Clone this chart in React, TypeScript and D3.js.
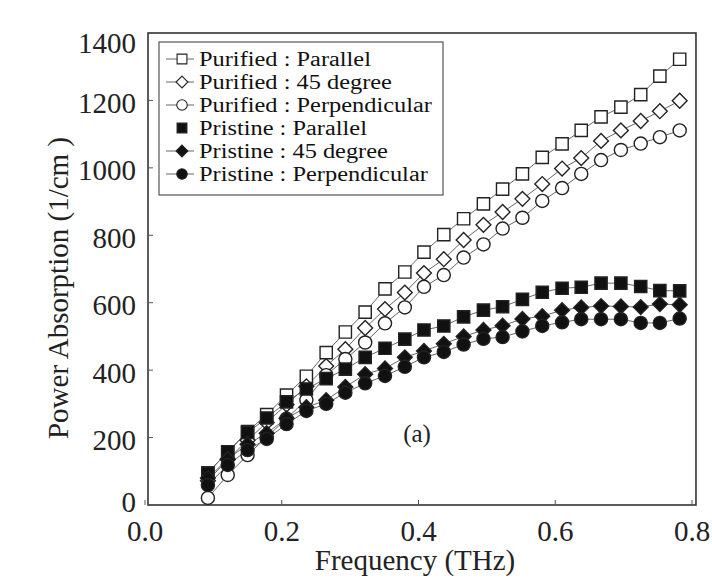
import React from "react";
import * as d3 from "d3";

const freq = [0.092, 0.121, 0.150, 0.178, 0.207, 0.236, 0.265, 0.293, 0.322, 0.351, 0.380, 0.408, 0.437, 0.466, 0.495, 0.523, 0.552, 0.581, 0.610, 0.638, 0.667, 0.696, 0.725, 0.753, 0.782];

const purifiedParallel = [95, 158, 218, 268, 326, 382, 452, 513, 572, 641, 691, 750, 802, 849, 893, 937, 982, 1031, 1071, 1111, 1151, 1180, 1217, 1272, 1322];
const purified45 = [72, 135, 192, 245, 298, 352, 412, 462, 525, 581, 630, 688, 729, 786, 831, 869, 908, 952, 998, 1029, 1080, 1111, 1139, 1168, 1199];
const purifiedPerp = [21, 89, 148, 202, 256, 312, 385, 433, 482, 539, 586, 647, 682, 734, 773, 820, 852, 902, 940, 982, 1023, 1053, 1072, 1091, 1111];
const pristineParallel = [95, 158, 215, 258, 306, 344, 375, 403, 438, 465, 492, 519, 531, 558, 578, 588, 610, 631, 643, 646, 658, 658, 648, 636, 635];
const pristine45 = [80, 136, 180, 213, 257, 290, 311, 350, 388, 405, 438, 457, 478, 500, 519, 532, 552, 560, 578, 586, 590, 589, 587, 596, 594];
const pristinePerp = [59, 119, 163, 196, 240, 279, 300, 333, 361, 383, 410, 438, 454, 476, 493, 498, 515, 531, 542, 551, 551, 551, 540, 540, 553];

const seriesNames = [
  "Purified : Parallel",
  "Purified : 45 degree",
  "Purified : Perpendicular",
  "Pristine : Parallel",
  "Pristine : 45 degree",
  "Pristine : Perpendicular",
];
const seriesValues = [purifiedParallel, purified45, purifiedPerp, pristineParallel, pristine45, pristinePerp];
const seriesShape = ["square", "diamond", "circle", "square", "diamond", "circle"];
const seriesFilled = [false, false, false, true, true, true];
const legendHasLine = [true, true, true, false, true, true];

const xTicks = [0, 0.2, 0.4, 0.6, 0.8];
const xTickLabels = ["0.0", "0.2", "0.4", "0.6", "0.8"];
const yTicks = [0, 200, 400, 600, 800, 1000, 1200, 1400];

const W = 712;
const H = 581;
const x = d3.scaleLinear().domain([0, 0.8]).range([145, 692]);
const y = d3.scaleLinear().domain([0, 1400]).range([505, 33]);

const FONT = "Liberation Serif, Times New Roman, serif";

function symbolPath(shape: string) {
  const type = shape === "square" ? d3.symbolSquare : shape === "diamond" ? d3.symbolDiamond2 : d3.symbolCircle;
  const size = shape === "square" ? 150 : shape === "diamond" ? 140 : 135;
  return d3.symbol().type(type).size(size)() as string;
}

function yLabelOffset(t: number) {
  if (t === 1400) return 10;
  if (t === 0) return -3;
  return 3;
}

export default function App() {
  const line = d3
    .line<number>()
    .x((_, i) => x(freq[i]))
    .y((d) => y(d));

  const frameLeft = x(0.0044);
  const frameRight = x(0.8058);
  const legendX = 159;
  const legendY = 42;
  const legendW = 284;
  const legendH = 153;
  const rowH = 23;

  return (
    <svg width={W} height={H} style={{ position: "absolute", left: 0, top: 0, background: "#fff" }}>
      <rect x={0} y={0} width={W} height={H} fill="#fff" />
      {/* frame */}
      <rect x={frameLeft} y={y(1400)} width={frameRight - frameLeft} height={y(0) - y(1400)} fill="none" stroke="#333" strokeWidth={1.6} />
      {/* y ticks */}
      {yTicks.map((t) => (
        <g key={"yt" + t}>
          <line x1={frameLeft} x2={frameLeft + 5} y1={y(t)} y2={y(t)} stroke="#555" strokeWidth={1} />
          <text x={136} y={y(t) + yLabelOffset(t)} dy="0.33em" textAnchor="end" fontFamily={FONT} fontSize={29} fill="#222">
            {t}
          </text>
        </g>
      ))}
      {/* x ticks */}
      {xTicks.map((t, i) => (
        <g key={"xt" + t}>
          <line x1={x(t)} x2={x(t)} y1={y(0)} y2={y(0) - 5} stroke="#555" strokeWidth={1} />
          <text x={x(t)} y={541} textAnchor="middle" fontFamily={FONT} fontSize={29} fill="#222">
            {xTickLabels[i]}
          </text>
        </g>
      ))}
      <text x={415} y={570} textAnchor="middle" fontFamily={FONT} fontSize={29} fill="#222">
        Frequency (THz)
      </text>
      <text transform="translate(68,288) rotate(-90)" textAnchor="middle" fontFamily={FONT} fontSize={29} fill="#222">
        Power Absorption (1/cm )
      </text>
      <text x={417} y={442} textAnchor="middle" fontFamily={FONT} fontSize={25} fill="#222">
        (a)
      </text>
      {/* lines */}
      {seriesValues.map((vals, si) => (
        <path key={"l" + si} d={line(vals) as string} fill="none" stroke="#666" strokeWidth={1} />
      ))}
      {/* markers */}
      {seriesValues.map((vals, si) => (
        <g key={"m" + si}>
          {vals.map((v, i) => (
            <path
              key={i}
              d={symbolPath(seriesShape[si])}
              transform={`translate(${x(freq[i])},${y(v)})`}
              fill={seriesFilled[si] ? "#111" : "#fff"}
              stroke="#222"
              strokeWidth={1.4}
            />
          ))}
        </g>
      ))}
      {/* legend */}
      <rect x={legendX} y={legendY} width={legendW} height={legendH} fill="#fff" stroke="#555" strokeWidth={1.2} />
      {seriesNames.map((name, si) => {
        const cy = legendY + 17 + si * rowH;
        return (
          <g key={"lg" + si}>
            {legendHasLine[si] && <line x1={166} x2={194} y1={cy} y2={cy} stroke="#666" strokeWidth={1} />}
            <path
              d={symbolPath(seriesShape[si])}
              transform={`translate(182,${cy}) scale(0.8)`}
              fill={seriesFilled[si] ? "#111" : "#fff"}
              stroke="#222"
              strokeWidth={1.4}
            />
            <text
              transform={`translate(199,${cy}) scale(1.19,1)`}
              dy="0.35em"
              fontFamily={FONT}
              fontSize={20.5}
              fill="#111"
            >
              {name}
            </text>
          </g>
        );
      })}
    </svg>
  );
}
